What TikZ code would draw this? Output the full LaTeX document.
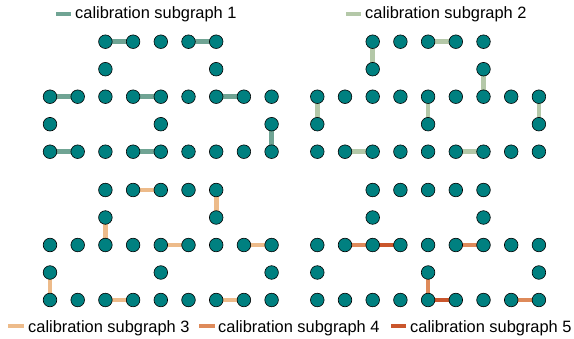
\documentclass[tikz,border=0pt]{standalone}
\usepackage{fontspec}
\setmainfont{Liberation Sans}
\usetikzlibrary{backgrounds}
\definecolor{nodeteal}{HTML}{008080}
\definecolor{sgA}{HTML}{70A494}
\definecolor{sgB}{HTML}{B4C8A8}
\definecolor{sgC}{HTML}{EDBB8A}
\definecolor{sgD}{HTML}{DE8A5A}
\definecolor{sgE}{HTML}{CA562C}
\begin{document}
\begin{tikzpicture}[x=1pt,y=-1pt,
  qubit/.style={circle,draw=black,line width=0.6pt,fill=nodeteal,minimum size=13.6pt,inner sep=0pt},
  cal/.style={line width=4.6pt},
  legtext/.style={anchor=base west,inner sep=0pt,font=\fontsize{16.4}{19}\selectfont}]
\useasboundingbox (0,0) rectangle (574,338);
% qubits
\foreach \p/\ox/\oy in {p1/50/41.7, p2/317.3/41.7, p3/50/190, p4/317.3/190} {
  \foreach \r/\cols in {1/{3,4,5,6,7}, 2/{3,7}, 3/{1,2,3,4,5,6,7,8,9}, 4/{1,5,9}, 5/{1,2,3,4,5,6,7,8,9}} {
    \foreach \c in \cols {
      \node[qubit] (\p-\r-\c) at ({\ox+(\c-1)*27.7},{\oy+(\r-1)*27.5}) {};
    }
  }
}
% calibration edges
\begin{scope}[on background layer]
\foreach \a/\b in {1-3/1-4, 1-6/1-7, 3-1/3-2, 3-4/3-5, 3-7/3-8, 5-1/5-2, 5-4/5-5, 4-9/5-9}
  \draw[cal,sgA] (p1-\a.center) -- (p1-\b.center);
\foreach \a/\b in {1-5/1-6, 1-3/2-3, 2-7/3-7, 3-1/4-1, 3-5/4-5, 3-9/4-9, 5-2/5-3, 5-6/5-7}
  \draw[cal,sgB] (p2-\a.center) -- (p2-\b.center);
\foreach \a/\b in {1-4/1-5, 1-7/2-7, 2-3/3-3, 3-5/3-6, 3-8/3-9, 4-1/5-1, 5-3/5-4, 5-7/5-8}
  \draw[cal,sgC] (p3-\a.center) -- (p3-\b.center);
\foreach \a/\b in {3-2/3-3, 3-6/3-7, 4-5/5-5, 5-8/5-9}
  \draw[cal,sgD] (p4-\a.center) -- (p4-\b.center);
\foreach \a/\b in {3-3/3-4, 5-5/5-6}
  \draw[cal,sgE] (p4-\a.center) -- (p4-\b.center);
\end{scope}
% legends
\coordinate (l1a) at (56,14);  \coordinate (l1b) at (71,14);
\draw[cal,sgA] (l1a) -- (l1b);
\node[legtext] (t1) at (75,18.7) {calibration subgraph 1};
\coordinate (l2a) at (346,14); \coordinate (l2b) at (361,14);
\draw[cal,sgB] (l2a) -- (l2b);
\node[legtext] (t2) at (365,18.7) {calibration subgraph 2};
\coordinate (l3a) at (8,326);  \coordinate (l3b) at (24,326);
\draw[cal,sgC] (l3a) -- (l3b);
\node[legtext] (t3) at (28,332.5) {calibration subgraph 3};
\coordinate (l4a) at (199,326); \coordinate (l4b) at (215,326);
\draw[cal,sgD] (l4a) -- (l4b);
\node[legtext] (t4) at (218,332.5) {calibration subgraph 4};
\coordinate (l5a) at (391,326); \coordinate (l5b) at (406,326);
\draw[cal,sgE] (l5a) -- (l5b);
\node[legtext] (t5) at (410,332.5) {calibration subgraph 5};
\end{tikzpicture}
\end{document}
